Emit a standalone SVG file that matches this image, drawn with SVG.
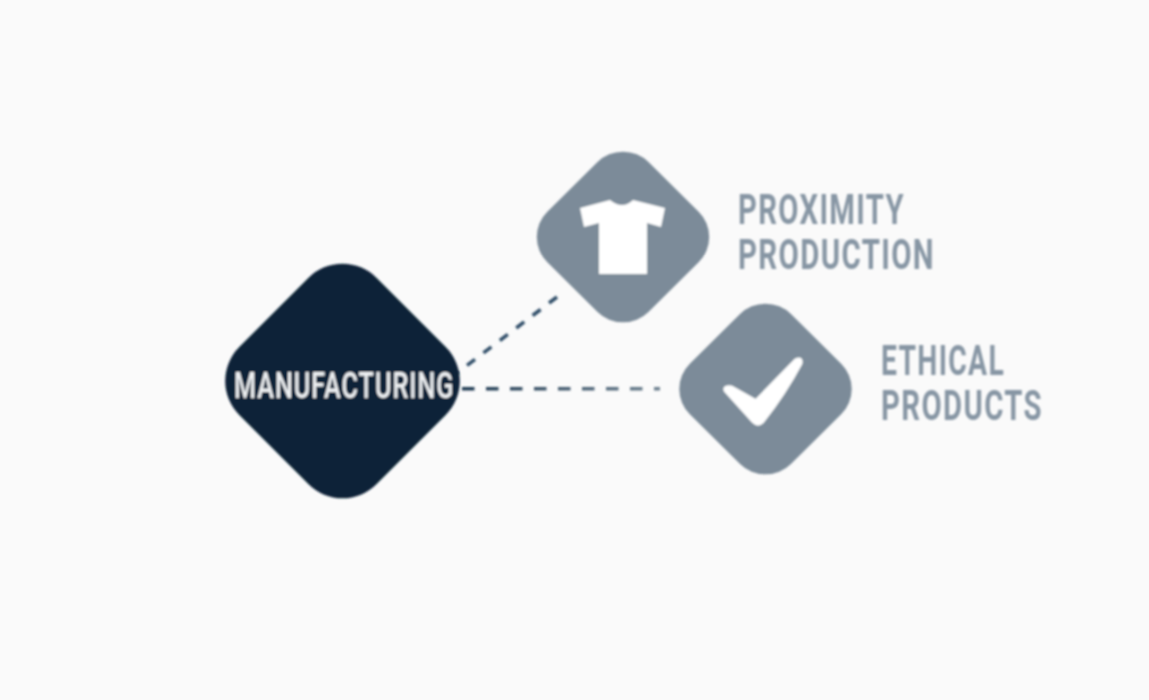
<svg xmlns="http://www.w3.org/2000/svg" width="1149" height="700" viewBox="0 0 1149 700">
<style>
.big{fill:#7c8b99}
.lbl{font-family:Roboto,"Liberation Sans",Arial,sans-serif;font-weight:700;fill:#8796a4;font-size:43px;letter-spacing:2px}
.main{font-family:Roboto,"Liberation Sans",Arial,sans-serif;font-weight:500;fill:#eef0f2;font-size:37px;letter-spacing:1.5px}
.ic{fill:#fff}
.chk{fill:#fff;stroke:#fff;stroke-width:5;stroke-linejoin:round}
.dash{fill:none;stroke-width:3.6}
</style>
<defs>
<filter id="soft" x="-5%" y="-5%" width="110%" height="110%"><feGaussianBlur stdDeviation="1"/></filter>
<linearGradient id="hd" gradientUnits="userSpaceOnUse" x1="462" y1="0" x2="660" y2="0"><stop offset="0" stop-color="#1f3a52"/><stop offset="1" stop-color="#6f8291"/></linearGradient>
</defs>
<rect width="1149" height="700" fill="#fafafa"/>
<g id="connectors" filter="url(#soft)">
<path class="dash" stroke="#33506a" stroke-dasharray="10 10.6" d="M557 297L457 373"/>
<path class="dash" stroke="url(#hd)" stroke-dasharray="12.5 11.5" d="M462 388.8H660"/>
</g>
<g id="manufacturing" filter="url(#soft)">
<rect x="-97" y="-97" width="194" height="194" rx="48" transform="translate(342.5 381) rotate(45)" fill="#0f2339"/>
<text class="main" x="234" y="398" textLength="220.5" lengthAdjust="spacingAndGlyphs">MANUFACTURING</text>
</g>
<g id="proximity" filter="url(#soft)">
<rect class="big" x="-71.5" y="-71.5" width="143" height="143" rx="36" transform="translate(623 237) scale(1 .99) rotate(45)"/>
<path class="ic" d="M580 208L610 200Q616 205 622 205Q628 205 633 200L665 208L661 227L647 223V274H599V223L584 227Z"/>
<text class="lbl"><tspan x="738" y="224" textLength="167" lengthAdjust="spacingAndGlyphs">PROXIMITY</tspan><tspan x="738" y="269" textLength="197" lengthAdjust="spacingAndGlyphs">PRODUCTION</tspan></text>
</g>
<g id="ethical" filter="url(#soft)">
<rect class="big" x="-71.5" y="-71.5" width="143" height="143" rx="36" transform="translate(765.5 389) scale(1 .99) rotate(45)"/>
<path class="chk" d="M726 390Q725 387 731 388L756 402L796 361Q801 358 800 363Q784 393 762 421Q758 425 754 421Z"/>
<text class="lbl"><tspan x="881" y="375" textLength="124" lengthAdjust="spacingAndGlyphs">ETHICAL</tspan><tspan x="881" y="420" textLength="162" lengthAdjust="spacingAndGlyphs">PRODUCTS</tspan></text>
</g>
</svg>
